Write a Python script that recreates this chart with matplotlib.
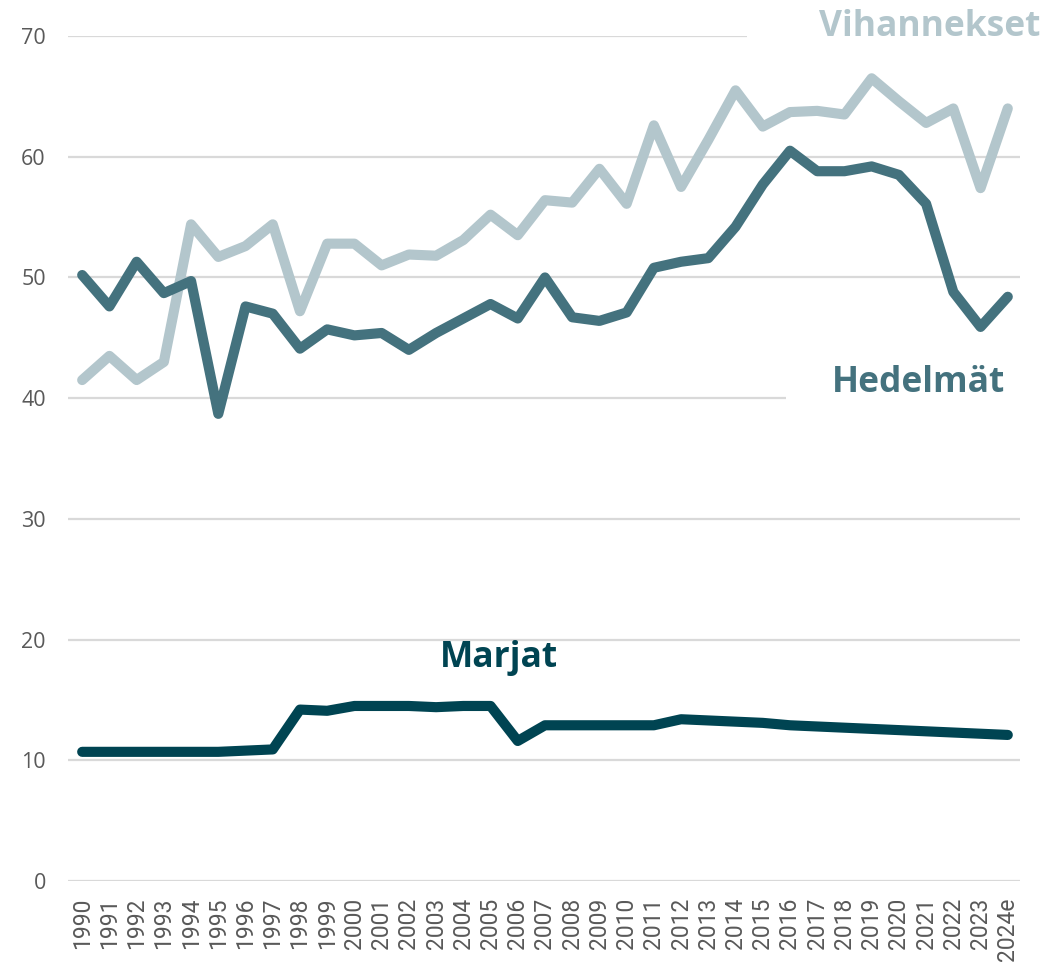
import matplotlib
matplotlib.use("Agg")
import matplotlib.pyplot as plt

years = ["1990", "1991", "1992", "1993", "1994", "1995", "1996", "1997", "1998", "1999",
         "2000", "2001", "2002", "2003", "2004", "2005", "2006", "2007", "2008", "2009",
         "2010", "2011", "2012", "2013", "2014", "2015", "2016", "2017", "2018", "2019",
         "2020", "2021", "2022", "2023", "2024e"]

vihannekset = [41.5, 43.5, 41.5, 43.0, 54.4, 51.7, 52.6, 54.4, 47.2, 52.8,
               52.8, 51.0, 51.9, 51.8, 53.1, 55.2, 53.5, 56.4, 56.2, 59.0,
               56.1, 62.6, 57.5, 61.4, 65.5, 62.5, 63.7, 63.8, 63.5, 66.5,
               64.6, 62.8, 64.0, 57.4, 64.0]

hedelmat = [50.2, 47.6, 51.3, 48.7, 49.7, 38.7, 47.6, 47.0, 44.1, 45.7,
            45.2, 45.4, 44.0, 45.4, 46.6, 47.8, 46.6, 50.0, 46.7, 46.4,
            47.1, 50.8, 51.3, 51.6, 54.2, 57.7, 60.5, 58.8, 58.8, 59.2,
            58.5, 56.1, 48.8, 45.9, 48.4]

marjat = [10.7, 10.7, 10.7, 10.7, 10.7, 10.7, 10.8, 10.9, 14.2, 14.1,
          14.5, 14.5, 14.5, 14.4, 14.5, 14.5, 11.6, 12.9, 12.9, 12.9,
          12.9, 12.9, 13.4, 13.3, 13.2, 13.1, 12.9, 12.8, 12.7, 12.6,
          12.5, 12.4, 12.3, 12.2, 12.1]

yticks = [0, 10, 20, 30, 40, 50, 60, 70]

c_veg = "#b3c6cc"
c_fruit = "#44727e"
c_berry = "#004452"

fig = plt.figure(figsize=(10.45, 9.66), dpi=100)
ax = fig.add_axes([0.0651, 0.088, 0.9110, 0.8747])

x = list(range(len(years)))
lw = 7.3
common = dict(linewidth=lw, solid_capstyle="round", solid_joinstyle="round", zorder=3)
ax.plot(x, vihannekset, color=c_veg, **common)
ax.plot(x, hedelmat, color=c_fruit, **common)
ax.plot(x, marjat, color=c_berry, **common)

ax.set_ylim(0, 70)
ax.set_xlim(-0.52, 34.45)
ax.set_yticks(yticks)
ax.set_yticklabels([str(v) for v in yticks], fontfamily="Open Sans", fontsize=15.5, color="#595959")
ax.set_xticks(x)
ax.set_xticklabels(years, rotation=90, fontfamily="Roboto", fontsize=16.5, color="#595959")
ax.tick_params(axis="both", length=0)
ax.tick_params(axis="y", pad=16)
ax.tick_params(axis="x", pad=12)
for s in ax.spines.values():
    s.set_visible(False)
ax.set_axisbelow(True)
ax.yaxis.grid(True, color="#d9d9d9", linewidth=1.6)
ax.xaxis.grid(False)

lab = dict(fontfamily="Open Sans", fontweight="bold", fontsize=25.5, zorder=1.5, clip_on=False)
ax.text(1.0215, 1.011, "Vihannekset", transform=ax.transAxes, ha="right", va="center",
        color=c_veg, bbox=dict(boxstyle="square,pad=2.05", facecolor="white", edgecolor="none"), **lab)
ax.text(0.984, 0.5895, "Hedelmät", transform=ax.transAxes, ha="right", va="center",
        color=c_fruit, bbox=dict(boxstyle="square,pad=1.3", facecolor="white", edgecolor="none"), **lab)
ax.text(15.3, 18.5, "Marjat", ha="center", va="center", color=c_berry, **lab)

fig.savefig("out.png", dpi=100)
